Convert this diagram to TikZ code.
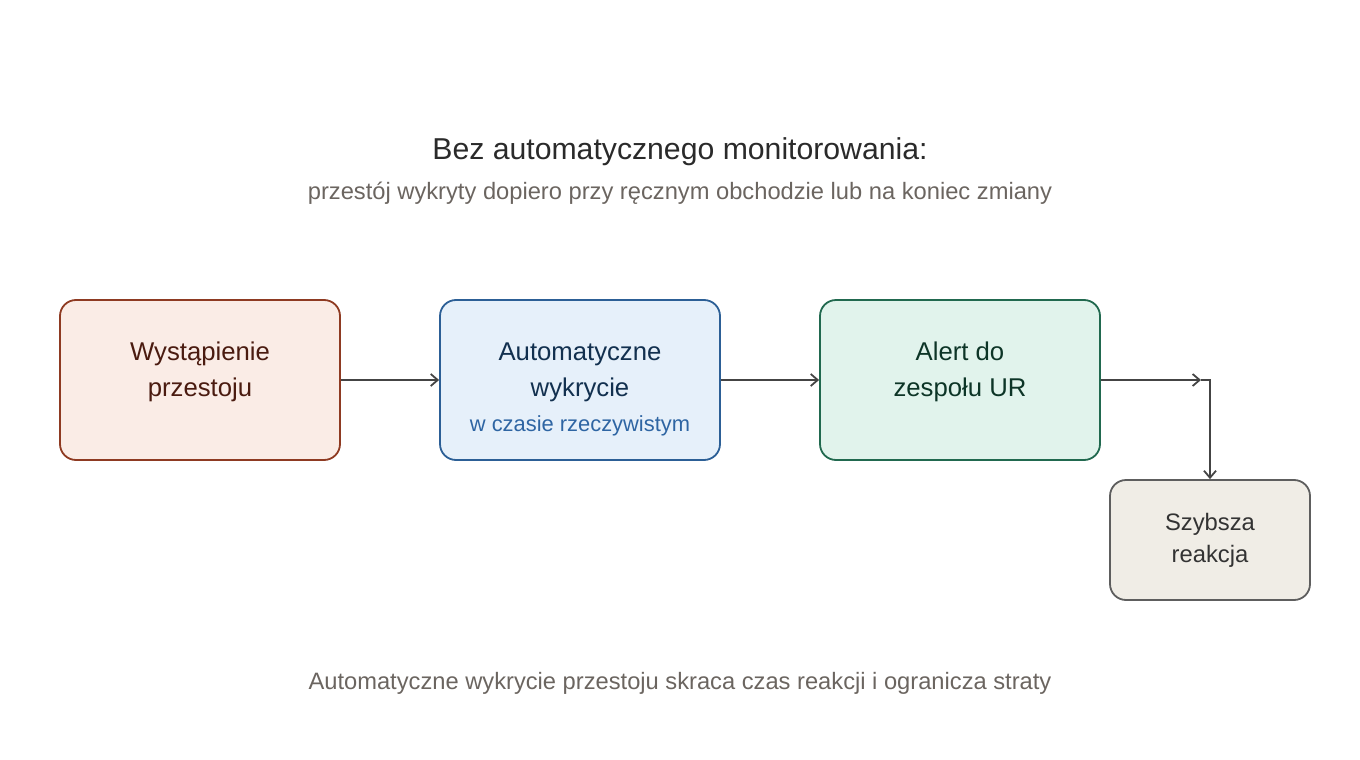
\documentclass[tikz,border=0pt]{standalone}
\usepackage{fontspec}
\setmainfont{Liberation Sans}
\usetikzlibrary{arrows.meta}
\definecolor{redfill}{HTML}{FAECE6}
\definecolor{reddraw}{HTML}{8E3A22}
\definecolor{redtext}{HTML}{4A1B10}
\definecolor{bluefill}{HTML}{E6F0FA}
\definecolor{bluedraw}{HTML}{2C5F96}
\definecolor{bluetext}{HTML}{12304F}
\definecolor{bluesub}{HTML}{2E65A3}
\definecolor{greenfill}{HTML}{E1F3EC}
\definecolor{greendraw}{HTML}{21694F}
\definecolor{greentext}{HTML}{0D3527}
\definecolor{greyfill}{HTML}{F0EDE6}
\definecolor{greydraw}{HTML}{5E5E5E}
\definecolor{greytext}{HTML}{333333}
\definecolor{titletext}{HTML}{2A2A2A}
\definecolor{subtext}{HTML}{6B6560}
\definecolor{arrowgrey}{HTML}{444444}
\tikzset{
  stepbox/.style={rounded corners=16pt, line width=1.8pt, inner sep=0pt,
    minimum width=280pt, minimum height=160pt},
  smallbox/.style={stepbox, minimum width=200pt, minimum height=120pt},
  line/.style={anchor=base, inner sep=0pt, font=\fontsize{25.7}{30}\selectfont},
  arr/.style={draw=arrowgrey, line width=1.8pt, -{Straight Barb[length=7pt,width=12pt]}},
}
\begin{document}
\begin{tikzpicture}
    \useasboundingbox (0pt,0pt) rectangle (1360pt,-760pt);
    % titles
    \node[line, text=titletext, font=\fontsize{30.2}{36}\selectfont] (title) at (680pt,-159pt) {Bez automatycznego monitorowania:};
    \node[line, text=subtext, font=\fontsize{23.7}{28}\selectfont] (subtitle) at (680pt,-199pt) {przestój wykryty dopiero przy ręcznym obchodzie lub na koniec zmiany};
    % boxes
    \node[stepbox, draw=reddraw, fill=redfill] (event) at (200pt,-380pt) {};
    \node[stepbox, draw=bluedraw, fill=bluefill] (detect) at (580pt,-380pt) {};
    \node[stepbox, draw=greendraw, fill=greenfill] (alert) at (960pt,-380pt) {};
    \node[smallbox, draw=greydraw, fill=greyfill] (react) at (1210pt,-540pt) {};
    % box texts
    \node[line, text=redtext] (event1) at (200pt,-360pt) {Wystąpienie};
    \node[line, text=redtext] (event2) at (200pt,-396pt) {przestoju};
    \node[line, text=bluetext] (detect1) at (580pt,-360pt) {Automatyczne};
    \node[line, text=bluetext] (detect2) at (580pt,-396pt) {wykrycie};
    \node[line, text=bluesub, font=\fontsize{21.9}{26}\selectfont] (detect3) at (580pt,-431pt) {w czasie rzeczywistym};
    \node[line, text=greentext] (alert1) at (960pt,-360pt) {Alert do};
    \node[line, text=greentext] (alert2) at (960pt,-396pt) {zespołu UR};
    \node[line, text=greytext, font=\fontsize{23.8}{28}\selectfont] (react1) at (1210pt,-530pt) {Szybsza};
    \node[line, text=greytext, font=\fontsize{23.8}{28}\selectfont] (react2) at (1210pt,-562pt) {reakcja};
    % arrows
    \draw[arr] (event.east) -- (detect.west);
    \draw[arr] (detect.east) -- (alert.west);
    \coordinate (bend) at (1201pt,-380pt);
    \draw[arr] (alert.east) -- (bend);
    \draw[arr] (bend) -| (react.north);
    % footer
    \node[line, text=subtext, font=\fontsize{23.7}{28}\selectfont] (footer) at (680pt,-689pt) {Automatyczne wykrycie przestoju skraca czas reakcji i ogranicza straty};
\end{tikzpicture}
\end{document}
